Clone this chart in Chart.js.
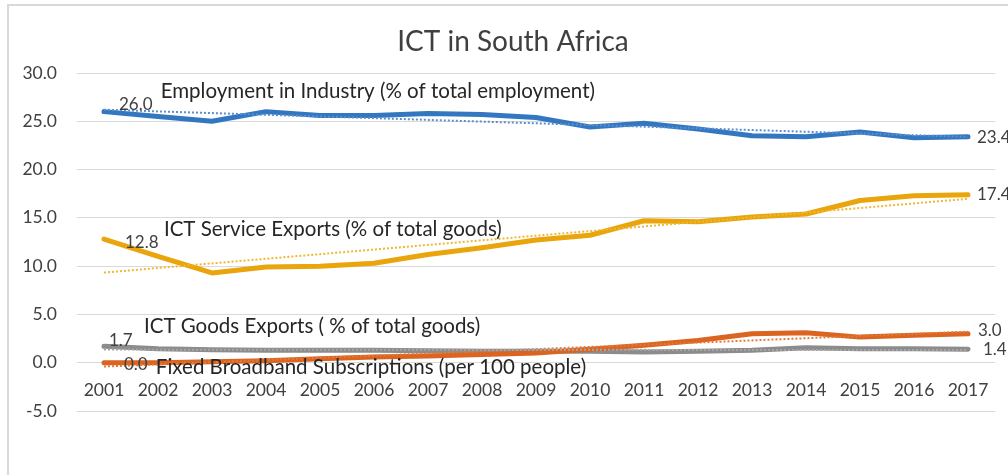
<!DOCTYPE html>
<html>
<head>
<meta charset="utf-8">
<script src="https://cdn.jsdelivr.net/npm/chart.js@4"></script>
<style>
  html, body { margin: 0; padding: 0; background: #fff; }
  #wrap { position: relative; width: 1008px; height: 475px; }
</style>
</head>
<body>
<div id="wrap"><canvas id="ictChart" width="1008" height="475"></canvas></div>
<script>
// values
const years = ["2001", "2002", "2003", "2004", "2005", "2006", "2007", "2008", "2009",
  "2010", "2011", "2012", "2013", "2014", "2015", "2016", "2017"];
const employment = [26.0, 25.5, 25.0, 26.0, 25.6, 25.6, 25.8, 25.7, 25.4, 24.4, 24.8, 24.2, 23.5, 23.4, 23.9, 23.3, 23.4];
const serviceExports = [12.8, 11.0, 9.3, 9.9, 10.0, 10.3, 11.2, 11.9, 12.7, 13.2, 14.7, 14.6, 15.1, 15.4, 16.8, 17.3, 17.4];
const goodsExports = [1.7, 1.45, 1.35, 1.3, 1.3, 1.3, 1.25, 1.2, 1.2, 1.2, 1.1, 1.2, 1.3, 1.55, 1.45, 1.45, 1.4];
const broadband = [0.0, 0.0, 0.1, 0.2, 0.4, 0.6, 0.7, 0.85, 1.0, 1.4, 1.8, 2.3, 3.0, 3.1, 2.65, 2.85, 3.0];

const seriesNames = [
  "Employment in Industry (% of total employment)",
  "ICT Service Exports (% of total goods)",
  "ICT Goods Exports ( % of total goods)",
  "Fixed Broadband Subscriptions (per 100 people)"
];
const seriesColors = ["#3477c1", "#eaa40c", "#8c8c8c", "#db6420"];
const trendColors = ["#5b8fd0", "#f0b830", "#a6a6a6", "#e07a3c"];

// least-squares trendline, like Excel's linear trendline
function trend(values) {
  const n = values.length;
  const mx = (n - 1) / 2;
  const my = values.reduce((a, b) => a + b, 0) / n;
  let sxy = 0, sxx = 0;
  values.forEach((v, i) => { sxy += (i - mx) * (v - my); sxx += (i - mx) * (i - mx); });
  const slope = sxy / sxx;
  return values.map((v, i) => my + slope * (i - mx));
}

const allSeries = [employment, serviceExports, goodsExports, broadband];

const FONT = "Lato, 'Open Sans', sans-serif";

// series name labels: left edge (category index) and vertical centre (value)
const nameSpots = [
  { x: 1.05, y: 28.1 },
  { x: 1.11, y: 13.8 },
  { x: 0.74, y: 3.76 },
  { x: 0.96, y: -0.5 }
];
// value labels: series, point, pixel nudge
const valueSpots = [
  { s: 0, i: 0, dx: 15, dy: -7 },
  { s: 0, i: 16, dx: 9, dy: 1 },
  { s: 1, i: 0, dx: 21, dy: 3 },
  { s: 1, i: 16, dx: 9, dy: 0 },
  { s: 2, i: 0, dx: 5, dy: -6 },
  { s: 2, i: 16, dx: 15, dy: 0 },
  { s: 3, i: 0, dx: 20, dy: 2 },
  { s: 3, i: 16, dx: 10, dy: -3 }
];

const frameAndText = {
  id: "frameAndText",
  beforeDraw(chart) {
    const ctx = chart.ctx;
    ctx.save();
    ctx.fillStyle = "#fff";
    ctx.fillRect(0, 0, chart.width, chart.height);
    ctx.strokeStyle = "#d9d9d9";
    ctx.lineWidth = 2;
    ctx.strokeRect(8, 5, chart.width + 20, chart.height + 20);
    ctx.restore();
  },
  afterDraw(chart) {
    const ctx = chart.ctx;
    const xs = chart.scales.x, ys = chart.scales.y;
    ctx.save();
    ctx.textBaseline = "middle";
    ctx.fillStyle = "#404040";
    ctx.textAlign = "center";
    ctx.font = "28px " + FONT;
    ctx.fillText("ICT in South Africa", 513, 42);

    ctx.textAlign = "left";
    ctx.fillStyle = "#262626";
    ctx.font = "20.5px " + FONT;
    nameSpots.forEach((p, k) => {
      ctx.fillText(seriesNames[k], xs.getPixelForValue(p.x), ys.getPixelForValue(p.y));
    });

    ctx.fillStyle = "#404040";
    ctx.font = "17px " + FONT;
    valueSpots.forEach(p => {
      const v = allSeries[p.s][p.i];
      ctx.fillText(v.toFixed(1), xs.getPixelForValue(p.i) + p.dx, ys.getPixelForValue(v) + p.dy);
    });
    ctx.restore();
  }
};

const datasets = [];
allSeries.forEach((vals, k) => {
  datasets.push({
    label: seriesNames[k] + " trend",
    data: trend(vals),
    borderColor: trendColors[k],
    borderWidth: 2,
    borderDash: [2, 2],
    pointRadius: 0,
    fill: false,
    order: 0
  });
});
allSeries.forEach((vals, k) => {
  datasets.push({
    label: seriesNames[k],
    data: vals,
    borderColor: seriesColors[k],
    borderWidth: 5,
    borderCapStyle: "round",
    borderJoinStyle: "round",
    pointRadius: 0,
    fill: false,
    order: 4 - k
  });
});

new Chart(document.getElementById("ictChart"), {
  type: "line",
  data: { labels: years, datasets: datasets },
  options: {
    responsive: false,
    animation: false,
    layout: { padding: { top: 73, left: 0, right: 13, bottom: 64 } },
    plugins: {
      legend: { display: false },
      title: { display: false },
      tooltip: { enabled: false }
    },
    scales: {
      x: {
        position: { y: 0 },
        offset: true,
        grid: { display: false, drawTicks: false },
        border: { display: false },
        ticks: { color: "#404040", font: { family: FONT, size: 17.5 }, padding: 17, maxRotation: 0, autoSkip: false }
      },
      y: {
        min: -5,
        max: 30,
        afterFit(scale) { scale.width = 77; },
        grid: { color: "#d9d9d9", lineWidth: 1, drawTicks: false },
        border: { display: false },
        ticks: {
          stepSize: 5,
          padding: 20,
          color: "#404040",
          font: { family: FONT, size: 17.5 },
          callback: v => v.toFixed(1)
        }
      }
    }
  },
  plugins: [frameAndText]
});
</script>
</body>
</html>
